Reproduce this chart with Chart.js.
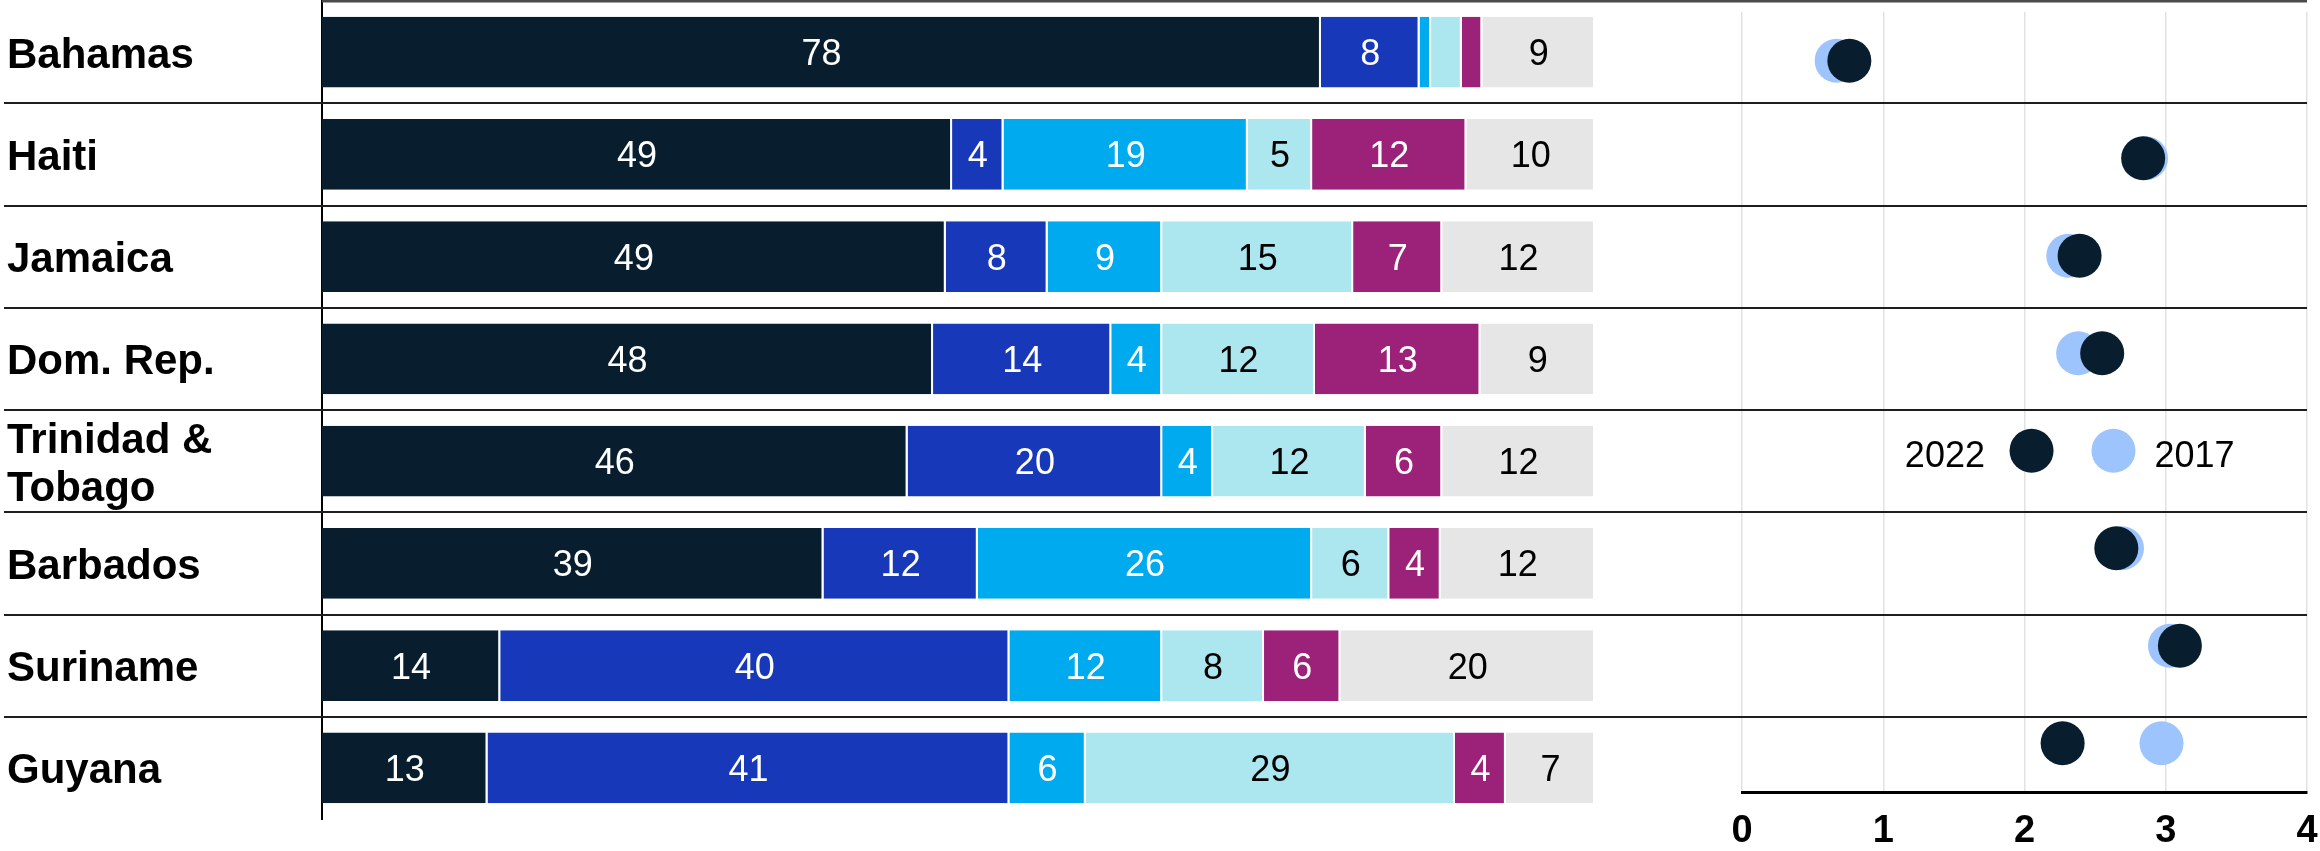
<!DOCTYPE html>
<html>
<head>
<meta charset="utf-8">
<script src="https://cdn.jsdelivr.net/npm/chart.js@4/dist/chart.umd.min.js"></script>
<style>
    body { margin: 0; background: #fff; }
    #wrap { position: relative; width: 2320px; height: 851px; }
    #wrap canvas { position: absolute; left: 0; top: 0; }
</style>
</head>
<body>
<div id="wrap">
    <canvas id="dots-chart" width="2320" height="851"></canvas>
    <canvas id="bars-chart" width="2320" height="851"></canvas>
</div>
<script>
// countries, top to bottom
const countries = ['Bahamas', 'Haiti', 'Jamaica', 'Dom. Rep.', ['Trinidad &', 'Tobago'], 'Barbados', 'Suriname', 'Guyana'];

// stacked bar shares (left to right segments)
const seg1 = [78, 49, 49, 48, 46, 39, 14, 13];
const seg2 = [7.7, 4, 8, 14, 20, 12, 40, 41];
const seg3 = [0.9, 19, 9, 4, 4, 26, 12, 6];
const seg4 = [2.4, 5, 15, 12, 12, 6, 8, 29];
const seg5 = [1.6, 12, 7, 13, 6, 4, 6, 4];
const seg6 = [8.8, 10, 12, 9, 12, 12, 20, 7];

// dot chart scores (no dots on the legend row)
const score2022 = [0.76, 2.84, 2.39, 2.55, null, 2.65, 3.10, 2.27];
const score2017 = [0.67, 2.86, 2.31, 2.38, null, 2.69, 3.03, 2.97];
const scoreTicks = [0, 1, 2, 3, 4];
const legendRow = 4;

const FONT = '"Liberation Sans", Arial, Helvetica, sans-serif';
Chart.defaults.font.family = FONT;
Chart.defaults.color = '#000';

const rowNames = countries.map(c => Array.isArray(c) ? c.join(' ') : c);

const segments = [
    { values: seg1, color: '#081e2e', text: '#fff' },
    { values: seg2, color: '#1838ba', text: '#fff' },
    { values: seg3, color: '#00aaef', text: '#fff' },
    { values: seg4, color: '#ace6ef', text: '#000' },
    { values: seg5, color: '#9c2179', text: '#fff' },
    { values: seg6, color: '#e6e6e6', text: '#000' }
];

// every bar is drawn as a full 100% row
const rowTotals = countries.map((_, i) => segments.reduce((s, seg) => s + seg.values[i], 0));

const barDatasets = segments.map((seg, k) => ({
    label: 'Segment ' + (k + 1),
    data: seg.values.map((v, i) => v / rowTotals[i] * 100),
    raw: seg.values,
    labelColor: seg.text,
    backgroundColor: seg.color,
    borderColor: '#fff',
    borderWidth: { left: 0, right: 2, top: 0, bottom: 0 },
    borderSkipped: false,
    barPercentage: 0.69,
    categoryPercentage: 1
}));

const segmentLabels = {
    id: 'segmentLabels',
    afterDatasetsDraw(chart) {
        const ctx = chart.ctx;
        ctx.save();
        ctx.font = '36px ' + FONT;
        ctx.textAlign = 'center';
        ctx.textBaseline = 'middle';
        chart.data.datasets.forEach((ds, di) => {
            chart.getDatasetMeta(di).data.forEach((bar, i) => {
                const v = ds.raw[i];
                if (v < 3) return; // too thin for a number
                ctx.fillStyle = ds.labelColor;
                ctx.fillText(Math.round(v), (bar.x + bar.base) / 2, bar.y + 3);
            });
        });
        ctx.restore();
    }
};

// row rules run across both panels
const rowLines = {
    id: 'rowLines',
    afterDraw(chart) {
        const y = chart.scales.y;
        const ctx = chart.ctx;
        const step = y.getPixelForValue(1) - y.getPixelForValue(0);
        const right = chart.width - 13;
        ctx.save();
        ctx.strokeStyle = '#1e1e1e';
        ctx.lineWidth = 2;
        for (let i = 0; i < countries.length - 1; i++)
        {
            const py = Math.round(y.getPixelForValue(i) + step / 2);
            ctx.beginPath();
            ctx.moveTo(4, py);
            ctx.lineTo(right, py);
            ctx.stroke();
        }
        const top = y.getPixelForValue(0) - step / 2;
        ctx.strokeStyle = '#4a4a4a';
        ctx.lineWidth = 3;
        ctx.beginPath();
        ctx.moveTo(chart.chartArea.left, top);
        ctx.lineTo(right, top);
        ctx.stroke();
        ctx.restore();
    }
};

const bars_ctx = document.getElementById('bars-chart').getContext('2d');

const barsChart = new Chart(bars_ctx, {
    type: 'bar',
    data: {
        labels: countries,
        datasets: barDatasets
    },
    options: {
        responsive: false,
        animation: false,
        events: [],
        indexAxis: 'y',
        layout: { autoPadding: false, padding: { left: 7, right: 725, top: 1, bottom: 32 } },
        plugins: {
            legend: { display: false },
            tooltip: { enabled: false }
        },
        scales: {
            x: {
                stacked: true,
                min: 0,
                max: 100,
                display: false
            },
            y: {
                stacked: true,
                offset: true,
                grid: { display: false },
                border: { display: true, color: '#000', width: 2 },
                ticks: {
                    crossAlign: 'far',
                    labelOffset: 4,
                    color: '#000',
                    font: { size: 42, weight: 'bold', lineHeight: 1.14 }
                },
                afterFit: function(scale) {
                    scale.width = 315;
                    scale.paddingTop = 0;
                    scale.paddingBottom = 0;
                }
            }
        }
    },
    plugins: [segmentLabels, rowLines]
});

const toPoints = arr => arr
    .map((v, i) => (v === null ? null : { x: v, y: rowNames[i] }))
    .filter(p => p !== null);

// year key drawn inside the empty row
const yearKey = {
    id: 'yearKey',
    afterDatasetsDraw(chart) {
        const x = chart.scales.x;
        const y = chart.scales.y;
        const row = y.getPixelForValue(legendRow);
        const ctx = chart.ctx;
        ctx.save();
        ctx.fillStyle = '#081e2e';
        ctx.beginPath();
        ctx.arc(x.getPixelForValue(2.05), row, 22, 0, Math.PI * 2);
        ctx.fill();
        ctx.fillStyle = '#9dc4fc';
        ctx.beginPath();
        ctx.arc(x.getPixelForValue(2.63), row, 22, 0, Math.PI * 2);
        ctx.fill();
        ctx.fillStyle = '#000';
        ctx.font = '36px ' + FONT;
        ctx.textBaseline = 'middle';
        ctx.textAlign = 'right';
        ctx.fillText('2022', x.getPixelForValue(1.72), row + 6);
        ctx.textAlign = 'left';
        ctx.fillText('2017', x.getPixelForValue(2.92), row + 6);
        ctx.restore();
    }
};

const dots_ctx = document.getElementById('dots-chart').getContext('2d');

const dotsChart = new Chart(dots_ctx, {
    type: 'scatter',
    data: {
        datasets: [
            {
                label: '2022',
                data: toPoints(score2022),
                backgroundColor: '#081e2e',
                borderWidth: 0,
                pointRadius: 22
            },
            {
                label: '2017',
                data: toPoints(score2017),
                backgroundColor: '#9dc4fc',
                borderWidth: 0,
                pointRadius: 22
            }
        ]
    },
    options: {
        responsive: false,
        animation: false,
        events: [],
        layout: { autoPadding: false, padding: { left: 1742, right: 13, top: 12, bottom: 0 } },
        plugins: {
            legend: { display: false },
            tooltip: { enabled: false }
        },
        scales: {
            x: {
                min: 0,
                max: 4,
                afterBuildTicks: function(scale) {
                    scale.ticks = scoreTicks.map(v => ({ value: v }));
                },
                grid: { color: '#e2e2e2', lineWidth: 1.5, drawTicks: false },
                border: { display: true, color: '#000', width: 3 },
                ticks: {
                    padding: 17,
                    color: '#000',
                    maxRotation: 0,
                    font: { size: 38, weight: 'bold' }
                },
                afterFit: function(scale) {
                    scale.height = 59;
                    scale.paddingLeft = 0;
                    scale.paddingRight = 0;
                }
            },
            y: {
                type: 'category',
                labels: rowNames,
                offset: true,
                display: false
            }
        }
    },
    plugins: [yearKey]
});
</script>
</body>
</html>
